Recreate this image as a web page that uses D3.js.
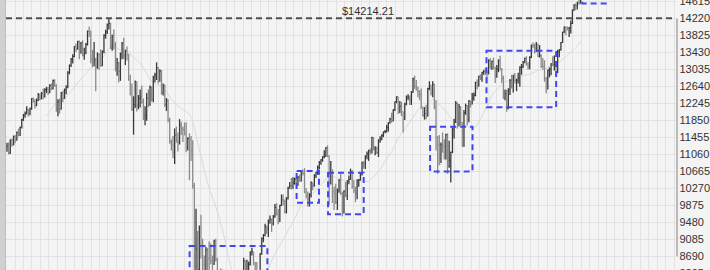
<!DOCTYPE html>
<html>
<head>
<meta charset="utf-8">
<script src="https://cdn.jsdelivr.net/npm/d3@7"></script>
<style>
  body { margin: 0; background: #f4f4f4; }
  svg { display: block; font-family: "Liberation Sans", Arial, sans-serif; }
</style>
</head>
<body>
<div id="chart"></div>
<script>
// weekly bars, first week ends 2006-08-04
var closes = [
  11240,11088,11381,11284,11464,11392,11560,11508,11679,11850,
  11960,12002,12090,11986,12108,12342,12280,12194,12307,12445,
  12343,12463,12398,12556,12565,12487,12653,12580,12767,12647,
  12114,12276,12110,12481,12354,12560,12612,12962,13120,13264,
  13327,13556,13507,13668,13424,13639,13360,13409,13611,13907,
  13851,13265,13181,13239,13079,13379,13358,13113,13442,13820,
  13896,14066,14093,13522,13807,13595,13042,13176,12980,13371,
  13625,13339,13450,13365,12800,12606,12099,12207,12743,12182,
  12348,12381,12266,11893,11951,12361,12216,12609,12325,12849,
  12891,13058,12745,12986,12479,12638,12209,12307,11843,11346,
  11288,11100,11496,11370,11326,11734,11659,11628,11543,11220,
  11421,11388,11143,10325,8451,8852,8378,9325,8943,8497,
  8046,8829,8635,8629,8579,8515,9034,8599,8281,8077,
  8001,8280,7850,7366,7063,6627,7224,7279,7776,8017,
  8083,8131,8076,8212,8575,8268,8277,8500,8764,8799,
  8539,8438,8280,8146,8743,9093,9171,9370,9321,9505,
  9544,9441,9605,9820,9665,9487,9865,9995,9972,9713,
  10023,10270,10318,10309,10389,10471,10329,10520,10428,10618,
  10610,10173,10067,10012,10099,10402,10325,10567,10625,10742,
  10851,10927,10997,11019,11204,11009,10380,10620,10193,10137,
  9931,10211,10450,10144,9686,10198,10098,10424,10466,10654,
  10303,10213,10150,10448,10462,10607,10860,10829,11006,11062,
  11132,11118,11444,11192,11203,11092,11382,11410,11491,11573,
  11577,11674,11787,11871,11823,12092,12273,12391,12130,12169,
  12044,11859,12221,12376,12380,12341,12505,12811,12638,12596,
  12512,12441,12151,11952,12004,11934,12582,12657,12479,12681,
  12143,11444,11269,10817,11284,11240,10992,11509,10771,10913,
  11103,11644,11808,12231,11983,12153,11796,11231,12019,12184,
  11866,12294,12217,12360,12422,12720,12660,12862,12801,12950,
  12983,12977,12922,13233,13081,13212,13060,12850,13029,13228,
  13038,12821,12369,12454,12119,12554,12767,12640,12880,12772,
  12777,12822,13075,13096,13207,13275,13157,13090,13306,13593,
  13579,13437,13610,13328,13343,13107,13093,12815,12588,13010,
  13026,13155,13135,13190,12938,13435,13488,13650,13896,14010,
  13993,13982,14001,14090,14397,14515,14512,14579,14565,14865
];
var highs = [
  11320,11330,11400,11420,11490,11500,11580,11650,11700,11880,
  11990,12050,12170,12100,12140,12360,12370,12330,12350,12480,
  12460,12500,12580,12590,12620,12620,12680,12700,12790,12795,
  12680,12330,12350,12500,12530,12580,12660,12980,13140,13290,
  13380,13570,13630,13690,13700,13660,13700,13530,13640,13930,
  14020,13930,13480,13660,13290,13420,13400,13490,13470,13840,
  13950,14090,14198,14110,13830,13950,13660,13290,13200,13420,
  13660,13760,13480,13560,13390,12900,12700,12400,12770,12750,
  12430,12560,12650,12350,12170,12480,12560,12650,12630,12880,
  12950,13190,13080,13030,13010,12700,12680,12360,12330,11900,
  11400,11480,11650,11700,11560,11870,11810,11700,11790,11800,
  11450,11540,11480,11380,10390,9790,9270,9400,9650,9090,
  8700,8900,8880,9030,8980,8700,9070,9090,8650,8360,
  8400,8370,8320,7960,7480,7120,7240,7540,7930,8070,
  8100,8180,8110,8290,8650,8590,8600,8560,8800,8880,
  8790,8550,8550,8300,8760,9120,9200,9440,9400,9540,
  9630,9560,9640,9900,9920,9780,9880,10120,10120,10000,
  10060,10300,10410,10500,10520,10510,10520,10550,10580,10640,
  10700,10730,10270,10190,10150,10420,10400,10590,10650,10790,
  10900,10940,11010,11150,11220,11260,11030,10900,10700,10300,
  10370,10260,10480,10600,10180,10220,10410,10450,10560,10720,
  10690,10450,10300,10470,10480,10630,10880,10900,11030,11120,
  11160,11190,11460,11450,11240,11230,11400,11470,11520,11580,
  11620,11740,11800,11900,12020,12100,12280,12400,12390,12290,
  12270,12050,12250,12420,12450,12420,12520,12830,12880,12780,
  12630,12540,12580,12150,12150,12190,12600,12750,12660,12750,
  12690,12310,11480,11500,11330,11560,11400,11530,11540,11370,
  11110,11680,11880,12290,12260,12220,12170,11800,12080,12230,
  12200,12310,12300,12480,12490,12740,12790,12880,12910,12970,
  13010,13060,12990,13260,13290,13230,13300,13090,13130,13260,
  13340,13060,12880,12560,12550,12590,12800,12900,12900,12940,
  12810,12950,13100,13150,13220,13300,13330,13190,13330,13600,
  13650,13620,13660,13620,13590,13380,13290,13240,12850,13020,
  13070,13170,13330,13350,13200,13480,13500,13660,13900,14020,
  14020,14020,14010,14160,14420,14540,14560,14600,14700,14890
];
var lows = [
  11110,11050,11060,11230,11260,11310,11370,11470,11480,11650,
  11830,11900,11980,11930,11960,12090,12250,12120,12170,12290,
  12310,12330,12330,12370,12480,12430,12470,12540,12560,12620,
  12040,11940,12000,12090,12260,12340,12450,12590,12910,13080,
  13160,13310,13430,13480,13260,13390,13330,13250,13380,13580,
  13780,13170,13080,13100,12520,13040,13010,13090,13100,13400,
  13740,13850,13950,13500,13460,13490,12980,12880,12720,12760,
  13260,13270,13130,13230,12760,12420,12060,11510,12130,12050,
  12100,12140,12230,11850,11730,11830,12150,12180,12280,12260,
  12720,12780,12700,12740,12440,12420,12150,12060,11800,11300,
  11140,10960,10830,11320,11120,11280,11500,11340,11490,11100,
  11140,10450,10900,10250,7773,8200,7880,8170,8630,8170,
  7450,7960,8000,8320,8500,8310,8480,8560,7920,7890,
  7920,7800,7720,7240,6950,6600,6470,7080,7250,7450,
  7860,7900,7770,7980,8150,8230,8170,8250,8470,8700,
  8470,8300,8250,8090,8140,8720,9010,9150,9200,9130,
  9440,9250,9400,9580,9630,9430,9480,9850,9870,9680,
  9680,10000,10250,10230,10250,10350,10270,10320,10420,10420,
  10560,10150,10030,9840,9840,10050,10220,10300,10500,10580,
  10700,10810,10880,10960,10990,10990,9870,10350,9920,9760,
  9900,9760,10160,10110,9610,9680,10060,9990,10360,10460,
  10250,10150,9940,10010,10300,10440,10560,10720,10710,10940,
  10900,11050,11070,11140,11030,11060,10990,11320,11380,11450,
  11540,11560,11580,11760,11790,11820,12060,12240,11990,12010,
  11940,11560,11850,12190,12310,12200,12200,12480,12570,12530,
  12380,12310,12110,11930,11860,11870,11930,12540,12420,12380,
  12100,11140,10600,10800,10850,11090,10930,10930,10600,10740,
  10400,11080,11420,11780,11650,11700,11730,11230,11230,11970,
  11730,11800,12140,12210,12300,12400,12560,12620,12780,12740,
  12900,12890,12700,12910,13040,13010,13030,12710,12830,12960,
  13000,12710,12340,12310,12040,12100,12430,12580,12490,12700,
  12520,12700,12620,12900,13060,13170,13110,13020,13030,13290,
  13520,13390,13430,13320,13300,13060,13020,12740,12470,12560,
  12840,12890,13100,13000,12880,12940,13310,13460,13640,13870,
  13820,13930,13780,13860,14080,14390,14400,14420,14530,14550
];

var yTicks = [8295, 8690, 9085, 9480, 9875, 10270, 10665, 11060, 11455,
              11850, 12245, 12640, 13035, 13430, 13825, 14220, 14615];

var resistance = 14214.21;

// highlighted zones: [first week, last week, top, bottom]
var boxes = [
  [111.1, 158.4, 8923, 6300],
  [176.2, 189.8, 10665, 9929],
  [195.3, 217.0, 10626, 9659],
  [257.4, 283.2, 11694, 10654],
  [291.7, 334.1, 13460, 12145],
  [350.0, 364.2, 15200, 14557]
];

var maPeriod = 25;

var width = 710, height = 270;
var left = 6, right = 676;

var svg = d3.select("#chart").append("svg")
    .attr("width", width)
    .attr("height", height);

svg.append("rect").attr("width", width).attr("height", height).attr("fill", "#f4f4f4");
svg.append("rect").attr("x", 0).attr("y", 0).attr("width", 5).attr("height", height).attr("fill", "#d0d0d0");
svg.append("line").attr("x1", 5.5).attr("x2", 5.5).attr("y1", 0).attr("y2", height)
    .attr("stroke", "#bdbdbd");

var x = d3.scaleLinear().domain([-0.6, 407]).range([left, right]);
var y = d3.scaleLinear().domain([8690, 14220]).range([256, 18]);

svg.append("clipPath").attr("id", "plot")
  .append("rect").attr("x", left).attr("y", 0).attr("width", right - left).attr("height", height);

var plot = svg.append("g").attr("clip-path", "url(#plot)");

// grid
plot.selectAll(".vgrid")
    .data(d3.range(left + 8.5, right, 8.45))
    .enter().append("line")
    .attr("x1", function (d) { return Math.round(d) + 0.5; })
    .attr("x2", function (d) { return Math.round(d) + 0.5; })
    .attr("y1", 0).attr("y2", height)
    .attr("stroke", "#e3e3e3");

plot.selectAll(".hgrid")
    .data(yTicks)
    .enter().append("line")
    .attr("x1", left).attr("x2", right)
    .attr("y1", function (d) { return Math.round(y(d)) + 0.5; })
    .attr("y2", function (d) { return Math.round(y(d)) + 0.5; })
    .attr("stroke", "#e3e3e3");

// moving average
var ma = closes.map(function (c, i) {
    if (i < maPeriod - 1) return null;
    return d3.mean(closes.slice(i - maPeriod + 1, i + 1));
});
plot.append("path")
    .datum(ma.map(function (v, i) { return [i, v]; }).filter(function (d) { return d[1] !== null; }))
    .attr("fill", "none")
    .attr("stroke", "#dadada")
    .attr("stroke-width", 1)
    .attr("d", d3.line().x(function (d) { return x(d[0]); }).y(function (d) { return y(d[1]); }));

// bars
var bars = plot.selectAll(".bar")
    .data(closes)
    .enter().append("g")
    .attr("stroke", function (c, i) { return (i === 0 || c >= closes[i - 1]) ? "#383838" : "#8a8a8a"; });

bars.append("line")
    .attr("x1", function (c, i) { return x(i); })
    .attr("x2", function (c, i) { return x(i); })
    .attr("y1", function (c, i) { return y(highs[i]); })
    .attr("y2", function (c, i) { return y(lows[i]); })
    .attr("stroke-width", 1.3);

bars.append("line")
    .attr("x1", function (c, i) { return x(i); })
    .attr("x2", function (c, i) { return x(i) + 1.2; })
    .attr("y1", function (c) { return y(c); })
    .attr("y2", function (c) { return y(c); })
    .attr("stroke-width", 1);

// resistance line
plot.append("line")
    .attr("x1", left).attr("x2", right)
    .attr("y1", y(resistance)).attr("y2", y(resistance))
    .attr("stroke", "#505050")
    .attr("stroke-width", 2)
    .attr("stroke-dasharray", "6,4");

svg.append("text")
    .attr("x", 368).attr("y", y(resistance) - 3)
    .attr("text-anchor", "middle")
    .attr("font-size", 11)
    .attr("fill", "#333")
    .text("$" + resistance.toFixed(2));

// boxes
plot.selectAll(".box")
    .data(boxes)
    .enter().append("rect")
    .attr("x", function (d) { return x(d[0]); })
    .attr("y", function (d) { return y(d[2]); })
    .attr("width", function (d) { return x(d[1]) - x(d[0]); })
    .attr("height", function (d) { return y(d[3]) - y(d[2]); })
    .attr("fill", "none")
    .attr("stroke", "#4048f2")
    .attr("stroke-width", 2)
    .attr("stroke-dasharray", "6,4");

// price axis
var axis = svg.append("g")
    .attr("transform", "translate(" + (right + 0.5) + ",0)")
    .call(d3.axisRight(y).tickValues(yTicks).tickSize(0).tickPadding(3).tickFormat(d3.format("d")));
axis.select(".domain").attr("stroke", "#808080");
axis.selectAll("text")
    .attr("font-size", 11)
    .attr("font-family", "Liberation Sans, Arial, sans-serif")
    .attr("fill", "#333");
</script>
</body>
</html>
